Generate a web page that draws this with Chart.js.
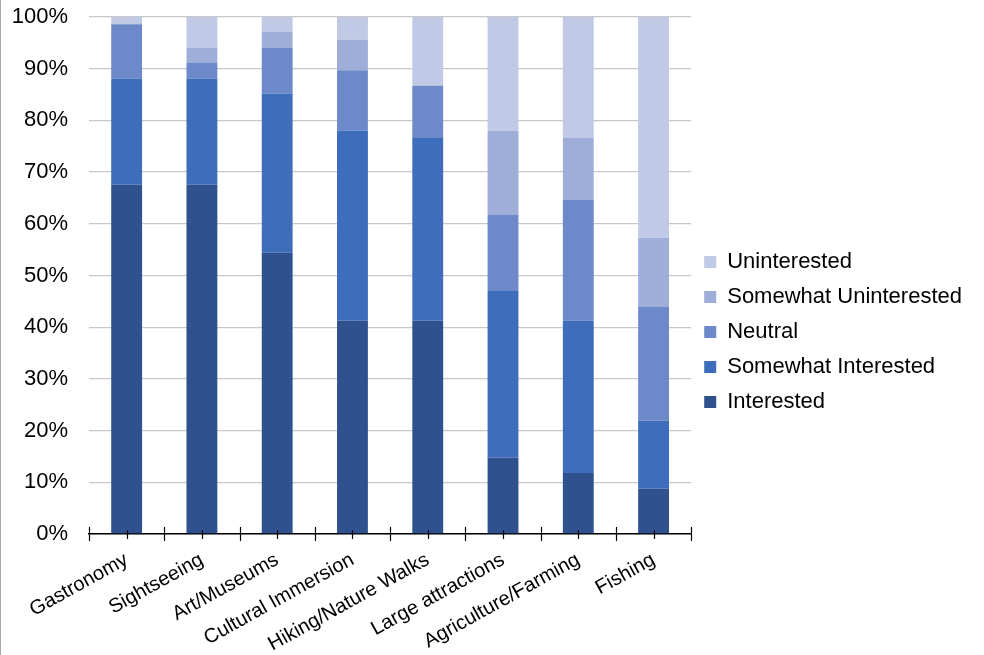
<!DOCTYPE html>
<html>
<head>
<meta charset="utf-8">
<script src="https://cdn.jsdelivr.net/npm/chart.js@4/dist/chart.umd.min.js"></script>
<style>
    body { margin: 0; background: #fff; }
    #wrap { width: 983px; height: 655px; border-left: 1px solid #a6a6a6; }
    canvas { display: block; }
</style>
</head>
<body>
<div id="wrap"><canvas id="barChart" width="983" height="655"></canvas></div>
<script>

var activities = ['Gastronomy', 'Sightseeing', 'Art/Museums', 'Cultural Immersion',
    'Hiking/Nature Walks', 'Large attractions', 'Agriculture/Farming', 'Fishing'];

// percent of respondents, bottom to top of each bar
var interested = [67.6, 67.6, 54.4, 41.3, 41.3, 14.8, 11.8, 8.8];
var somewhatInterested = [20.5, 20.5, 30.8, 36.7, 35.3, 32.2, 29.5, 13.1];
var neutral = [10.5, 3.1, 8.9, 11.7, 10.1, 14.7, 23.3, 22.1];
var somewhatUninterested = [0, 2.9, 3.0, 5.9, 0, 16.3, 12.0, 13.3];
var uninterested = [1.4, 5.9, 2.9, 4.4, 13.3, 22.0, 23.4, 42.7];

var yTicks = [0, 10, 20, 30, 40, 50, 60, 70, 80, 90, 100];

// small tick marks across the category axis, like the original
var axisTicks = {
    id: 'axisTicks',
    afterDraw: function(chart) {
        var x = chart.scales.x;
        var ctx = chart.ctx;
        var y0 = x.top;
        ctx.save();
        ctx.strokeStyle = '#000';
        ctx.lineWidth = 1.2;
        ctx.beginPath();
        for (var i = 0; i <= activities.length; i++) {
            var bx = Math.round(x.getPixelForValue(i - 0.5)) + 0.5;
            ctx.moveTo(bx, y0 - 7);
            ctx.lineTo(bx, y0 + 7);
            if (i < activities.length) {
                var cx = Math.round(x.getPixelForValue(i)) + 0.5;
                ctx.moveTo(cx, y0 - 4);
                ctx.lineTo(cx, y0 + 5);
            }
        }
        ctx.stroke();
        ctx.restore();
    }
};

function makeBarChart() {
    var ctx = document.getElementById('barChart');
    var chart = new Chart(ctx, {
        type: 'bar',
        data: {
            labels: activities,
            datasets: [
                { label: 'Interested', data: interested, backgroundColor: '#2f528f' },
                { label: 'Somewhat Interested', data: somewhatInterested, backgroundColor: '#3e6dbb' },
                { label: 'Neutral', data: neutral, backgroundColor: '#6d89ca' },
                { label: 'Somewhat Uninterested', data: somewhatUninterested, backgroundColor: '#9eaed9' },
                { label: 'Uninterested', data: uninterested, backgroundColor: '#c0c9e5' }
            ]
        },
        options: {
            responsive: false,
            animation: false,
            devicePixelRatio: 1,
            barPercentage: 0.41,
            categoryPercentage: 1,
            layout: { padding: { left: 10, top: 9, right: 12, bottom: 0 } },
            plugins: {
                tooltip: { enabled: false },
                legend: {
                    position: 'right',
                    reverse: true,
                    maxWidth: 330,
                    labels: {
                        boxWidth: 12,
                        boxHeight: 12,
                        padding: 13,
                        color: '#000',
                        font: { family: 'Liberation Sans, Arial', size: 22 }
                    }
                }
            },
            scales: {
                x: {
                    stacked: true,
                    grid: { display: false, drawTicks: false },
                    border: { display: true, color: '#000', width: 1.5 },
                    ticks: {
                        color: '#000',
                        maxRotation: 29,
                        minRotation: 29,
                        padding: 14,
                        font: { family: 'Liberation Sans, Arial', size: 20 }
                    },
                    afterFit: function(axis) {
                        axis.height = 121;
                        axis.paddingLeft = 0;
                        axis.paddingRight = 0;
                    }
                },
                y: {
                    stacked: true,
                    min: 0,
                    max: 100,
                    afterBuildTicks: function(axis) {
                        axis.ticks = yTicks.map(function(v) { return { value: v }; });
                    },
                    grid: { color: '#c8c8c8', lineWidth: 1.3, drawTicks: false },
                    border: { display: false },
                    ticks: {
                        color: '#000',
                        padding: 21,
                        font: { family: 'Liberation Sans, Arial', size: 22 },
                        callback: function(v) { return v + '%'; }
                    },
                    afterFit: function(axis) {
                        axis.width = 78;
                        axis.paddingTop = 17;
                        axis.paddingBottom = 0;
                    }
                }
            }
        },
        plugins: [axisTicks]
    });
}

makeBarChart();
</script>
</body>
</html>
